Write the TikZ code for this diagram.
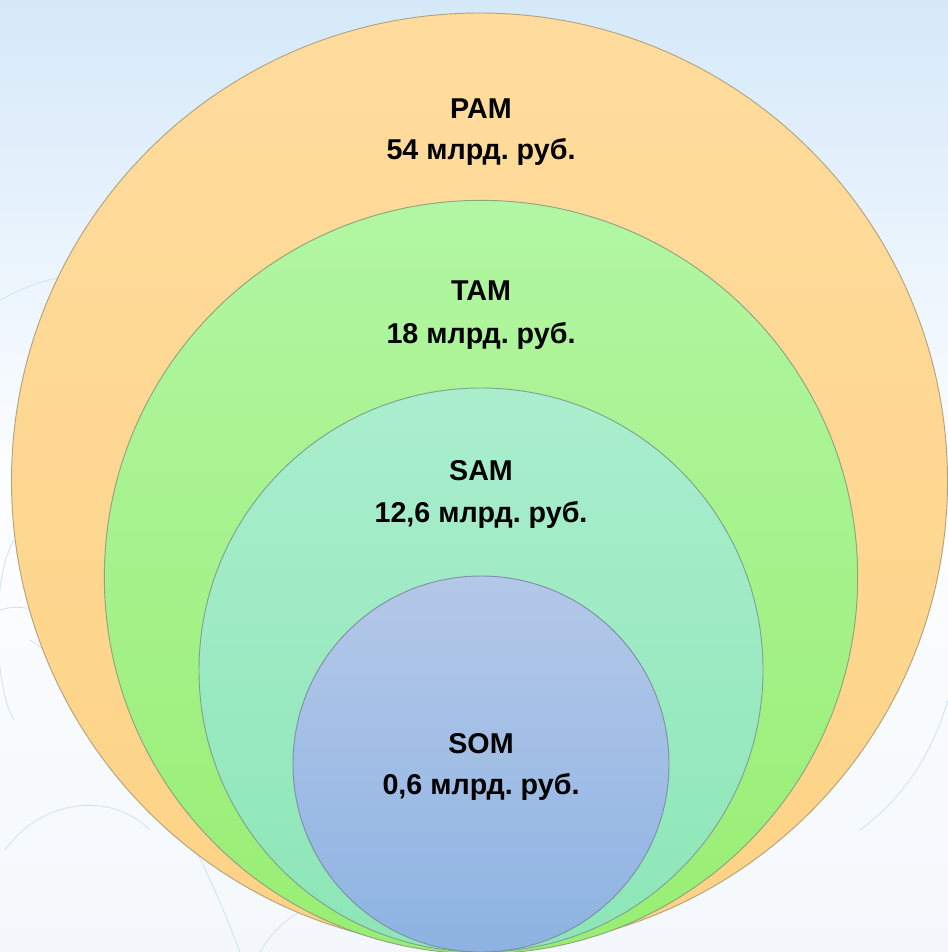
\documentclass[tikz,border=0pt]{standalone}
\usepackage{fontspec}
\setmainfont{Liberation Sans}
\frenchspacing
\begin{document}
\begin{tikzpicture}[x=0.75pt,y=-0.75pt,
  ring/.style={circle, inner sep=0pt, outer sep=0pt, draw=#1, line width=0.7pt},
  lbl/.style={anchor=base, inner sep=0pt, font=\fontsize{21.5}{26}\selectfont\bfseries\frenchspacing, text=black},
  swirl/.style={draw=#1, line width=0.6pt}]
\definecolor{bgtop}{HTML}{D5E9F9}
\definecolor{bgbot}{HTML}{F4F8FC}
\definecolor{swl}{HTML}{CFE2EF}
\definecolor{pamT}{HTML}{FFDC9E}
\definecolor{pamB}{HTML}{FDD385}
\definecolor{pamE}{HTML}{B4A27E}
\definecolor{tamT}{HTML}{B2F6A3}
\definecolor{tamB}{HTML}{98EE72}
\definecolor{tamE}{HTML}{8FA47E}
\definecolor{samT}{HTML}{AAEECE}
\definecolor{samB}{HTML}{8CE6B6}
\definecolor{samE}{HTML}{7FA294}
\definecolor{somT}{HTML}{B4C8E8}
\definecolor{somB}{HTML}{8DB3E2}
\definecolor{somE}{HTML}{7E90A6}
\useasboundingbox (0,0) rectangle (948,952);
\shade[top color=bgtop, bottom color=bgbot, middle color=white!94!bgtop] (0,0) rectangle (948,952);
% faint decorative swirls
\draw[swirl=swl] (14,540) .. controls (-10,580) and (-5,690) .. (14,720);
\draw[swirl=swl] (0,610) .. controls (30,600) and (70,620) .. (95,650);
\draw[swirl=swl] (5,850) .. controls (40,800) and (110,790) .. (150,830);
\draw[swirl=swl] (30,640) .. controls (120,700) and (190,820) .. (240,952);
\draw[swirl=swl] (260,952) .. controls (290,900) and (350,885) .. (400,905);
\draw[swirl=swl] (948,700) .. controls (930,760) and (900,800) .. (860,830);
\draw[swirl=swl] (0,300) .. controls (20,290) and (40,280) .. (60,278);
% circles
\node[ring=pamE, top color=pamT, bottom color=pamB, minimum size=702pt] (pam) at (479.5,481) {};
\node[ring=tamE, top color=tamT, bottom color=tamB, minimum size=565pt] (tam) at (481,577) {};
\node[ring=samE, top color=samT, bottom color=samB, minimum size=423pt] (sam) at (481,670) {};
\node[ring=somE, top color=somT, bottom color=somB, minimum size=282pt] (som) at (481,764) {};
% labels
\node[lbl] (pam1) at (481,118.3) {PAM};
\node[lbl] (pam2) at (481,159.3) {54 млрд. руб.};
\node[lbl] (tam1) at (481,300.7) {TAM};
\node[lbl] (tam2) at (481,343.3) {18 млрд. руб.};
\node[lbl] (sam1) at (481,480.7) {SAM};
\node[lbl] (sam2) at (481,522.7) {12,6 млрд. руб.};
\node[lbl] (som1) at (481,753.3) {SOM};
\node[lbl] (som2) at (481,794) {0,6 млрд. руб.};
\end{tikzpicture}
\end{document}
